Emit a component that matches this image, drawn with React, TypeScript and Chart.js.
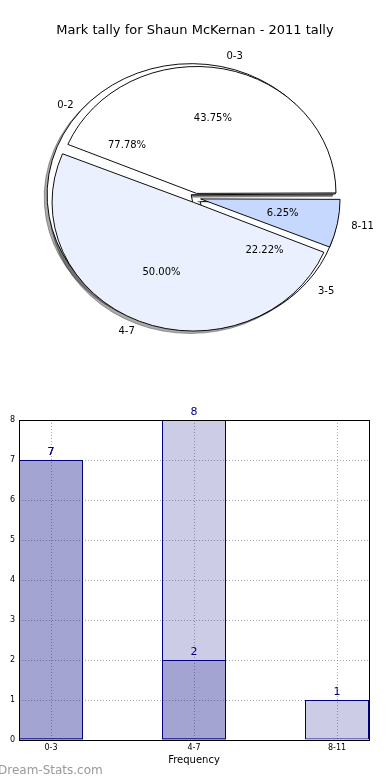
import React, { useEffect, useRef } from 'react';
import { Chart, registerables } from 'chart.js';

Chart.register(...registerables);

const FONT = '"DejaVu Sans", "Bitstream Vera Sans", sans-serif';
Chart.defaults.font.family = FONT;

const TITLE = 'Mark tally for Shaun McKernan - 2011 tally';

// first (underlying) pie
const PIE_A_LABELS = ['0-2', '3-5'];
const PIE_A_VALUES = [7, 2];
const PIE_A_COLORS = ['#ffffff', '#ffffff'];
const PIE_A_EXPLODE = [0.04, 0.045];

// second (top) pie
const PIE_B_LABELS = ['0-3', '4-7', '8-11'];
const PIE_B_VALUES = [7, 8, 1];
const PIE_B_COLORS = ['#ffffff', '#ebf0fe', '#c6d8fe'];
const PIE_B_EXPLODE = [0.037, 0.037, 0.037];

// bar chart
const BAR_CATEGORIES = ['0-3', '4-7', '8-11'];
const BAR_SERIES_A = [7, 2];
const BAR_SERIES_B = [7, 8, 1];
const X_TITLE = 'Frequency';
const WATERMARK = 'Dream-Stats.com';

const PIE_R = 127;
const PIE_SX = 139.6 / 127;
const BAR_WIDTH = 64 / 143;
const NAVY = '#000080';
const FAR = 3000;

function rev(a: any[]) {
  return a.slice().reverse();
}

const PIE_SETS = [
  {
    labels: rev(PIE_B_LABELS),
    values: rev(PIE_B_VALUES),
    colors: rev(PIE_B_COLORS),
    explode: rev(PIE_B_EXPLODE),
    radius: PIE_R - 3,
  },
  {
    labels: rev(PIE_A_LABELS),
    values: rev(PIE_A_VALUES),
    colors: rev(PIE_A_COLORS),
    explode: rev(PIE_A_EXPLODE),
    radius: PIE_R - 1,
  },
];

function ellipse(ctx: CanvasRenderingContext2D, cx: number) {
  ctx.translate(cx, 0);
  ctx.scale(PIE_SX, 1);
  ctx.translate(-cx, 0);
}

const piePlugin = {
  id: 'pieDecor',
  afterDatasetUpdate(chart: any, args: any) {
    const set = PIE_SETS[args.index];
    args.meta.data.forEach((arc: any) => {
      arc.innerRadius = 0;
      arc.outerRadius = set.radius;
    });
  },
  beforeDatasetsDraw(chart: any) {
    // all shadows first (under every wedge), like matplotlib's zorder
    const ctx = chart.ctx as CanvasRenderingContext2D;
    for (let di = PIE_SETS.length - 1; di >= 0; di--) {
      const arcs = chart.getDatasetMeta(di).data;
      if (!arcs.length) continue;
      const cx = arcs[0].x;
      ctx.save();
      ctx.translate(-FAR, 0);
      ellipse(ctx, cx);
      ctx.shadowColor = 'rgba(0,0,0,0.33)';
      ctx.shadowOffsetX = FAR - 3;
      ctx.shadowOffsetY = 2.5;
      ctx.shadowBlur = 0;
      arcs.forEach((a: any) => a.draw(ctx));
      ctx.restore();
    }
  },
  beforeDatasetDraw(chart: any, args: any) {
    const ctx = chart.ctx as CanvasRenderingContext2D;
    const arcs = args.meta.data;
    const cx = arcs.length ? arcs[0].x : 0;
    ctx.save();
    ellipse(ctx, cx);
  },
  afterDatasetDraw(chart: any) {
    chart.ctx.restore();
  },
  afterDatasetsDraw(chart: any) {
    const ctx = chart.ctx as CanvasRenderingContext2D;
    ctx.save();
    ctx.fillStyle = '#000';
    ctx.font = `10px ${FONT}`;
    ctx.textBaseline = 'middle';
    PIE_SETS.forEach((set, di) => {
      const meta = chart.getDatasetMeta(di);
      const total = set.values.reduce((s: number, v: number) => s + v, 0);
      meta.data.forEach((arc: any, i: number) => {
        const mid = (arc.startAngle + arc.endAngle) / 2;
        const c = Math.cos(mid);
        const s = Math.sin(mid);
        const d = set.explode[i] * PIE_R;
        const lr = d + 1.1 * PIE_R;
        const pr = d + 0.6 * PIE_R;
        ctx.textAlign = c > 0 ? 'left' : 'right';
        ctx.fillText(set.labels[i], arc.x + PIE_SX * lr * c, arc.y + lr * s);
        ctx.textAlign = 'center';
        ctx.fillText(
          ((set.values[i] / total) * 100).toFixed(2) + '%',
          arc.x + PIE_SX * pr * c,
          arc.y + pr * s
        );
      });
    });
    ctx.restore();
  },
};

const barPlugin = {
  id: 'barDecor',
  afterDatasetsDraw(chart: any) {
    const ctx = chart.ctx as CanvasRenderingContext2D;
    const a = chart.chartArea;
    ctx.save();
    ctx.strokeStyle = '#000';
    ctx.lineWidth = 1;
    const l = Math.round(a.left) + 0.5;
    const t = Math.round(a.top) + 0.5;
    const r = Math.round(a.right) + 0.5;
    const b = Math.round(a.bottom) + 0.5;
    ctx.strokeRect(l, t, r - l, b - t);
    ctx.fillStyle = NAVY;
    ctx.font = `11px ${FONT}`;
    ctx.textAlign = 'center';
    ctx.textBaseline = 'alphabetic';
    chart.data.datasets.forEach((ds: any, di: number) => {
      chart.getDatasetMeta(di).data.forEach((bar: any, j: number) => {
        ctx.fillText(String(ds.data[j].y), bar.x, bar.y - 5);
      });
    });
    ctx.restore();
  },
};

export default function App() {
  const pieRef = useRef<HTMLCanvasElement | null>(null);
  const barRef = useRef<HTMLCanvasElement | null>(null);

  useEffect(() => {
    const pie = new Chart(pieRef.current as HTMLCanvasElement, {
      type: 'pie',
      data: {
        labels: PIE_SETS[0].labels,
        datasets: PIE_SETS.map((set) => ({
          data: set.values,
          backgroundColor: set.colors,
          borderColor: '#000000',
          borderWidth: 0.9,
          offset: set.explode.map((e: number) => 4 * e * PIE_R),
          hoverOffset: 0,
          rotation: 90,
        })),
      } as any,
      options: {
        responsive: false,
        animation: false,
        devicePixelRatio: 1,
        events: [],
        rotation: 90,
        radius: PIE_R,
        layout: { padding: { left: 1, right: 0, top: 0, bottom: 4 } },
        plugins: { legend: { display: false }, tooltip: { enabled: false } },
      } as any,
      plugins: [piePlugin as any],
    });

    const barDataset = (vals: number[]) => ({
      data: vals.map((y, i) => ({ x: i, y })),
      backgroundColor: 'rgba(0,0,128,0.2)',
      borderColor: NAVY,
      borderWidth: 1,
      borderSkipped: false,
      grouped: false,
      barPercentage: BAR_WIDTH,
      categoryPercentage: 1,
    });

    const yMax = Math.max(...BAR_SERIES_A, ...BAR_SERIES_B);
    const gridOpts = { color: 'rgba(0,0,0,0.33)', lineWidth: 1, drawTicks: false };

    const bar = new Chart(barRef.current as HTMLCanvasElement, {
      type: 'bar',
      data: { datasets: [barDataset(BAR_SERIES_B), barDataset(BAR_SERIES_A)] } as any,
      options: {
        responsive: false,
        animation: false,
        devicePixelRatio: 1,
        events: [],
        layout: { padding: { top: 20, right: 21, left: 0, bottom: 0 } },
        plugins: { legend: { display: false }, tooltip: { enabled: false } },
        scales: {
          x: {
            type: 'linear',
            offset: false,
            min: -BAR_WIDTH / 2,
            max: BAR_CATEGORIES.length - 1 + BAR_WIDTH / 2,
            afterBuildTicks: (s: any) => {
              s.ticks = BAR_CATEGORIES.map((_, i) => ({ value: i }));
            },
            afterFit: (s: any) => {
              s.height = 40;
            },
            ticks: {
              callback: (v: any) => BAR_CATEGORIES[v] ?? '',
              font: { family: FONT, size: 8 },
              color: '#000',
              padding: 3,
              maxRotation: 0,
              autoSkip: false,
            },
            grid: { ...gridOpts, offset: false },
            border: { display: false, dash: [1, 2] },
            title: {
              display: true,
              text: X_TITLE,
              font: { family: FONT, size: 10 },
              color: '#000',
              padding: { top: 0, bottom: 14 },
            },
          },
          y: {
            min: 0,
            max: yMax,
            afterFit: (s: any) => {
              s.width = 19;
            },
            ticks: {
              stepSize: 1,
              font: { family: FONT, size: 8 },
              color: '#000',
              padding: 4,
            },
            grid: gridOpts,
            border: { display: false, dash: [1, 2] },
          },
        },
      } as any,
      plugins: [barPlugin as any],
    });

    return () => {
      pie.destroy();
      bar.destroy();
    };
  }, []);

  return (
    <div
      style={{
        position: 'absolute',
        left: 0,
        top: 0,
        width: 390,
        height: 780,
        background: '#ffffff',
        overflow: 'hidden',
      }}
    >
      <canvas
        ref={pieRef}
        width={390}
        height={400}
        style={{ position: 'absolute', left: 0, top: 0, width: 390, height: 400 }}
      />
      <canvas
        ref={barRef}
        width={390}
        height={380}
        style={{ position: 'absolute', left: 0, top: 400, width: 390, height: 380 }}
      />
      <div
        style={{
          position: 'absolute',
          left: 0,
          top: 22,
          width: 390,
          textAlign: 'center',
          fontFamily: FONT,
          fontSize: 13,
          lineHeight: '16px',
          color: '#000',
          whiteSpace: 'nowrap',
        }}
      >
        {TITLE}
      </div>
      <div
        style={{
          position: 'absolute',
          left: -2,
          top: 762,
          fontFamily: FONT,
          fontSize: 12,
          lineHeight: '16px',
          color: '#999999',
          whiteSpace: 'nowrap',
        }}
      >
        {WATERMARK}
      </div>
    </div>
  );
}
